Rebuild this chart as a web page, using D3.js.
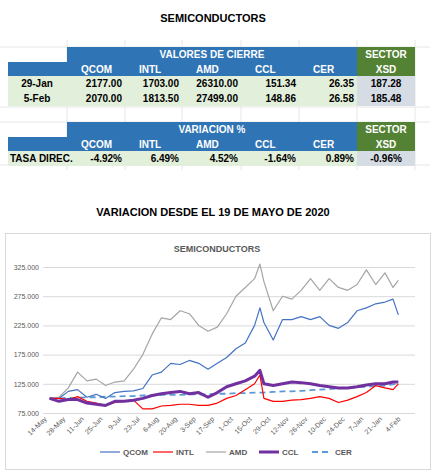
<!doctype html>
<html>
<head>
<meta charset="utf-8">
<style>
	body { margin: 0; background: #fff; font-family: "Liberation Sans", Arial, sans-serif; }
	.hdr { fill: #fff; font-weight: bold; font-size: 10px; }
	.cell { fill: #000; font-weight: bold; font-size: 10px; }
	.tick text { font-size: 7px; fill: #595959; }
	.grid line { stroke: #d9d9d9; }
	.grid path { stroke: none; }
</style>
<script src="https://d3js.org/d3.v7.min.js"></script>
</head>
<body>
<div id="canvas"></div>
<script>
	var cols = ["QCOM", "INTL", "AMD", "CCL", "CER"];
	var rowLabels = ["29-Jan", "5-Feb"];
	var closeVals = [["2177.00", "1703.00", "26310.00", "151.34", "26.35"],
		["2070.00", "1813.50", "27499.00", "148.86", "26.58"]];
	var sectorVals = ["187.28", "185.48"];
	var varVals = ["-4.92%", "6.49%", "4.52%", "-1.64%", "0.89%"];
	var varSector = "-0.96%";

	var dates = ["2020-05-19","2020-05-26","2020-06-02","2020-06-09","2020-06-16","2020-06-23","2020-06-30",
		"2020-07-07","2020-07-14","2020-07-21","2020-07-28","2020-08-04","2020-08-11","2020-08-18","2020-08-25",
		"2020-09-01","2020-09-08","2020-09-15","2020-09-22","2020-09-29","2020-10-06","2020-10-13","2020-10-20",
		"2020-10-24","2020-10-27","2020-11-03","2020-11-10","2020-11-17","2020-11-24","2020-12-01","2020-12-08",
		"2020-12-15","2020-12-22","2020-12-29","2021-01-05","2021-01-12","2021-01-19","2021-01-26","2021-02-01","2021-02-05"];
	var qcom = [100,100,112,115,102,107,100,110,112,113,117,140,145,160,158,165,160,150,160,170,185,195,225,255,230,200,235,235,240,235,240,225,220,230,250,255,262,265,270,243];
	var intl = [100,100,98,103,95,92,88,93,95,97,82,82,87,88,90,90,88,88,92,100,105,115,125,140,100,95,95,97,98,100,103,100,93,97,103,110,122,118,115,125];
	var amd = [100,102,118,145,130,133,122,128,130,150,175,210,238,235,250,245,225,215,222,245,275,290,305,330,300,250,275,270,285,305,285,305,290,285,295,320,295,315,290,302];
	var ccl = [100,95,98,98,92,90,88,95,95,97,100,105,108,110,112,108,110,102,110,120,125,130,138,148,125,122,125,128,127,125,122,120,118,118,120,123,125,125,128,128];
	var cer = [100,100,101,101,102,102,103,103,104,104,105,105,106,106,106,107,107,107,108,108,109,109,110,110,110,111,112,112,113,114,115,116,117,118,119,120,121,122,124,125];
	var yTicks = [75, 125, 175, 225, 275, 325];

	var svg = d3.select("#canvas").append("svg").attr("width", 440).attr("height", 475);

	// faint spreadsheet grid
	var sheet = svg.append("g").attr("stroke", "#e6e6e6");
	[67,125,182,241,299,357,415].forEach(x => sheet.append("line").attr("x1", x).attr("x2", x).attr("y1", 40).attr("y2", 170));
	[47,107,122,165].forEach(y => sheet.append("line").attr("x1", 0).attr("x2", 430).attr("y1", y).attr("y2", y));

	svg.append("text").attr("x", 213).attr("y", 22).attr("text-anchor", "middle")
		.attr("font-weight", "bold").attr("font-size", 11).text("SEMICONDUCTORS");

	var colX = [67,125,182,241,299,357,415];

	function table(top, title, rows, sectorRows) {
		var r1 = top, r2 = top + 15, r3 = top + 29;
		svg.append("rect").attr("x", 67).attr("y", r1).attr("width", 290).attr("height", 29).attr("fill", "#2f74b5");
		svg.append("rect").attr("x", 8).attr("y", r2).attr("width", 59).attr("height", 14).attr("fill", "#2f74b5");
		svg.append("rect").attr("x", 357).attr("y", r1).attr("width", 58).attr("height", 29).attr("fill", "#548235");
		svg.append("text").attr("class", "hdr").attr("x", 212).attr("y", r1 + 11).attr("text-anchor", "middle").text(title);
		svg.append("text").attr("class", "hdr").attr("x", 386).attr("y", r1 + 11).attr("text-anchor", "middle").attr("font-size", 11).text("SECTOR");
		svg.append("text").attr("class", "hdr").attr("x", 386).attr("y", r2 + 11).attr("text-anchor", "middle").attr("font-size", 11).text("XSD");
		cols.forEach((c, i) => svg.append("text").attr("class", "hdr").attr("x", colX[i] + 14).attr("y", r2 + 11).text(c));
		rows.forEach((row, j) => {
			var y = r3 + j * 15;
			svg.append("rect").attr("x", 8).attr("y", y).attr("width", 349).attr("height", 15).attr("fill", "#e2efda");
			svg.append("rect").attr("x", 357).attr("y", y).attr("width", 58).attr("height", 15).attr("fill", "#d6dce4");
			svg.append("text").attr("class", "cell").attr("x", row.center ? 37 : 10).attr("y", y + 11)
				.attr("text-anchor", row.center ? "middle" : "start").text(row.label);
			row.vals.forEach((v, i) => svg.append("text").attr("class", "cell").attr("x", colX[i + 1] - 3)
				.attr("y", y + 11).attr("text-anchor", "end").text(v));
			svg.append("text").attr("class", "cell").attr("x", 386).attr("y", y + 11).attr("text-anchor", "middle").text(sectorRows[j]);
		});
	}
	table(47, "VALORES DE CIERRE", rowLabels.map((l, j) => ({label: l, vals: closeVals[j], center: true})), sectorVals);
	table(122, "VARIACION %", [{label: "TASA DIREC.", vals: varVals, center: false}], [varSector]);

	svg.append("text").attr("x", 213).attr("y", 216).attr("text-anchor", "middle")
		.attr("font-weight", "bold").attr("font-size", 11).text("VARIACION DESDE EL 19 DE MAYO DE 2020");

	// chart frame
	svg.append("rect").attr("x", 5.5).attr("y", 233.5).attr("width", 425).attr("height", 236)
		.attr("fill", "#fff").attr("stroke", "#d9d9d9");
	svg.append("text").attr("x", 217).attr("y", 252).attr("text-anchor", "middle").attr("font-weight", "bold")
		.attr("font-size", 9).attr("fill", "#595959").text("SEMICONDUCTORS");

	var parse = d3.timeParse("%Y-%m-%d");
	var x = d3.scaleTime().domain([parse("2020-05-14"), parse("2021-02-04")]).range([43, 397]);
	var y = d3.scaleLinear().domain([75, 325]).range([413, 267]);
	var left = 43, right = 415;

	svg.append("g").attr("class", "grid").attr("transform", `translate(${left},0)`)
		.call(d3.axisLeft(y).tickValues(yTicks).tickSize(-(right - left)).tickFormat(d3.format(".3f")))
		.call(g => g.selectAll(".tick text").attr("x", -4))
		.call(g => g.selectAll(".tick line").filter(d => d === 75).attr("stroke", "#bfbfbf"));

	var xTicks = d3.timeDay.every(14).range(parse("2020-05-14"), parse("2021-02-05"));
	xTicks = d3.range(0, 267, 14).map(d => d3.timeDay.offset(parse("2020-05-14"), d));
	svg.append("g").attr("transform", "translate(0,413)")
		.call(d3.axisBottom(x).tickValues(xTicks).tickSize(0).tickFormat(d3.timeFormat("%-d-%b")))
		.call(g => g.select(".domain").remove())
		.call(g => g.selectAll(".tick text").attr("text-anchor", "end")
			.attr("transform", "translate(0,3) rotate(-45)").attr("dy", "0.3em"));

	var series = [
		{name: "QCOM", vals: qcom, color: "#4472c4", w: 1.2, dash: null},
		{name: "INTL", vals: intl, color: "#ff0000", w: 1.2, dash: null},
		{name: "AMD", vals: amd, color: "#a5a5a5", w: 1.2, dash: null},
		{name: "CCL", vals: ccl, color: "#7030a0", w: 3, dash: null},
		{name: "CER", vals: cer, color: "#5b9bd5", w: 1.8, dash: "6,4"}
	];
	var line = d3.line().x((d, i) => x(parse(dates[i]))).y(d => y(d));
	var order = [4, 2, 0, 1, 3];
	order.forEach(k => {
		var s = series[k];
		svg.append("path").attr("d", line(s.vals)).attr("fill", "none").attr("stroke", s.color)
			.attr("stroke-width", s.w).attr("stroke-dasharray", s.dash).attr("stroke-linejoin", "round");
	});

	var lg = svg.append("g").attr("transform", "translate(100,452)");
	var lx = 0;
	series.forEach(s => {
		lg.append("line").attr("x1", lx).attr("x2", lx + 20).attr("stroke", s.color)
			.attr("stroke-width", s.w).attr("stroke-dasharray", s.dash);
		lg.append("text").attr("x", lx + 23).attr("y", 3).attr("font-size", 8).attr("font-weight", "bold")
			.attr("fill", "#595959").text(s.name);
		lx += 53;
	});
</script>
</body>
</html>
